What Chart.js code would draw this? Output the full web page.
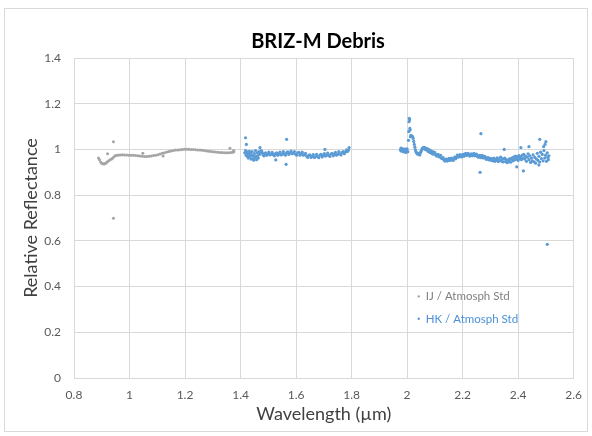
<!DOCTYPE html>
<html>
<head>
<meta charset="utf-8">
<script src="https://cdn.jsdelivr.net/npm/chart.js@4.4.0/dist/chart.umd.min.js"></script>
<style>
  html, body { margin: 0; padding: 0; background: #fff; }
  canvas { display: block; }
</style>
</head>
<body>
<canvas id="chart" width="592" height="436"></canvas>
<script>
// IJ / Atmosph Std (gray)
const ijWave = [
  0.888, 0.892, 0.896, 0.900, 0.904, 0.908, 0.912, 0.916, 0.920, 0.925,
  0.930, 0.935, 0.940, 0.945, 0.950, 0.956, 0.962, 0.968, 0.975, 0.982,
  0.990, 0.998, 1.006, 1.014, 1.022, 1.030, 1.038, 1.046, 1.054, 1.062,
  1.070, 1.078, 1.086, 1.094, 1.102, 1.110, 1.118, 1.126, 1.134, 1.142,
  1.150, 1.158, 1.166, 1.174, 1.182, 1.190, 1.198, 1.206, 1.214, 1.222,
  1.230, 1.238, 1.246, 1.254, 1.262, 1.270, 1.278, 1.286, 1.294, 1.302,
  1.310, 1.318, 1.326, 1.334, 1.342, 1.350, 1.358, 1.366, 1.372,
  0.942, 0.942, 0.921, 1.362, 1.375, 1.376, 1.048, 1.121
]
const ijRefl = [
  0.962, 0.955, 0.945, 0.940, 0.937, 0.936, 0.938, 0.941, 0.946, 0.950,
  0.955, 0.958, 0.963, 0.969, 0.973, 0.975, 0.976, 0.976, 0.977, 0.976,
  0.976, 0.975, 0.975, 0.974, 0.973, 0.972, 0.971, 0.970, 0.969, 0.969,
  0.970, 0.971, 0.973, 0.975, 0.977, 0.980, 0.983, 0.986, 0.989, 0.991,
  0.993, 0.995, 0.997, 0.998, 0.999, 1.000, 1.001, 1.001, 1.001, 1.000,
  1.000, 0.999, 0.998, 0.997, 0.996, 0.995, 0.993, 0.992, 0.991, 0.990,
  0.989, 0.988, 0.987, 0.987, 0.986, 0.986, 0.986, 0.987, 0.988,
  1.034, 0.699, 0.981, 1.005, 0.995, 0.990, 0.983, 0.971
]

// HK / Atmosph Std (blue), first window
const hkWaveA = [
  1.415, 1.418, 1.420, 1.422, 1.424, 1.426, 1.428, 1.430, 1.432, 1.434,
  1.436, 1.438, 1.440, 1.442, 1.444, 1.446, 1.448, 1.450, 1.452, 1.454,
  1.456, 1.458, 1.460, 1.462, 1.464, 1.466, 1.468, 1.470, 1.472, 1.475,
  1.478, 1.481, 1.484, 1.487, 1.490, 1.494, 1.498, 1.502, 1.506, 1.510,
  1.514, 1.518, 1.522, 1.526, 1.530, 1.534, 1.538, 1.542, 1.546, 1.550,
  1.554, 1.558, 1.562, 1.566, 1.570, 1.574, 1.578, 1.582, 1.586, 1.590,
  1.594, 1.598, 1.602, 1.606, 1.610, 1.614, 1.618, 1.622, 1.626, 1.630,
  1.634, 1.638, 1.642, 1.646, 1.650, 1.654, 1.658, 1.662, 1.666, 1.670,
  1.674, 1.678, 1.682, 1.686, 1.690, 1.694, 1.698, 1.702, 1.706, 1.710,
  1.714, 1.718, 1.722, 1.726, 1.730, 1.734, 1.738, 1.742, 1.746, 1.750,
  1.754, 1.758, 1.762, 1.766, 1.770, 1.774, 1.778, 1.782, 1.786, 1.789,
  1.791,
  1.418, 1.421, 1.566, 1.564, 1.527, 1.704
]
const hkReflA = [
  0.985, 0.995, 0.975, 0.990, 0.970, 0.983, 0.962, 0.978, 0.992, 0.968,
  0.985, 0.958, 0.975, 0.990, 0.960, 0.972, 0.953, 0.982, 0.965, 0.995,
  0.970, 0.955, 0.985, 0.972, 0.962, 0.990, 0.978, 1.008, 0.985, 0.995,
  0.987, 0.977, 0.972, 0.982, 0.985, 0.974, 0.980, 0.988, 0.976, 0.979,
  0.987, 0.977, 0.972, 0.982, 0.985, 0.974, 0.980, 0.988, 0.976, 0.979,
  0.990, 0.980, 0.975, 0.986, 0.989, 0.978, 0.985, 0.993, 0.981, 0.984,
  0.991, 0.980, 0.975, 0.985, 0.987, 0.975, 0.981, 0.988, 0.975, 0.977,
  0.983, 0.971, 0.965, 0.974, 0.976, 0.965, 0.970, 0.977, 0.965, 0.968,
  0.978, 0.968, 0.964, 0.975, 0.978, 0.967, 0.974, 0.982, 0.971, 0.974,
  0.984, 0.974, 0.969, 0.980, 0.983, 0.972, 0.979, 0.987, 0.975, 0.979,
  0.990, 0.980, 0.976, 0.987, 0.991, 0.981, 0.989, 0.998, 0.991, 0.997,
  1.008,
  1.051, 1.022, 1.044, 0.935, 0.954, 1.000
]

// HK / Atmosph Std (blue), second window
const hkWaveB = [
  1.976, 1.978, 1.980, 1.982, 1.984, 1.986, 1.988, 1.990, 1.992, 1.994,
  1.996, 1.998, 2.000, 2.003, 2.005, 2.006, 2.007, 2.008, 2.009, 2.010,
  2.011, 2.012, 2.014, 2.016, 2.018, 2.020, 2.022, 2.024, 2.026, 2.028,
  2.030, 2.032, 2.034, 2.036, 2.038, 2.040, 2.042, 2.044, 2.046, 2.048,
  2.050, 2.052, 2.054, 2.056, 2.058, 2.060, 2.062, 2.064, 2.066, 2.068,
  2.070, 2.073, 2.076, 2.079, 2.082, 2.085, 2.088, 2.091, 2.094, 2.097,
  2.100, 2.103, 2.106, 2.109, 2.112, 2.115, 2.118, 2.121, 2.124, 2.127,
  2.130, 2.133, 2.136, 2.139, 2.142, 2.145, 2.148, 2.151, 2.154, 2.157,
  2.160, 2.163, 2.166, 2.169, 2.172, 2.175, 2.178, 2.181, 2.184, 2.187,
  2.190, 2.193, 2.196, 2.199, 2.202, 2.205, 2.208, 2.211, 2.214, 2.217,
  2.220, 2.223, 2.226, 2.229, 2.232, 2.235, 2.238, 2.241, 2.244, 2.247,
  2.250, 2.253, 2.256, 2.259, 2.262, 2.265, 2.268, 2.271, 2.274, 2.277,
  2.280, 2.283, 2.286, 2.289, 2.292, 2.295, 2.298, 2.301, 2.304, 2.307,
  2.310, 2.313, 2.316, 2.319, 2.322, 2.325, 2.328, 2.331, 2.334, 2.337,
  2.340, 2.343, 2.346, 2.349, 2.352, 2.355, 2.358, 2.361, 2.364, 2.367,
  2.370, 2.373, 2.376, 2.379, 2.382, 2.385, 2.388, 2.391, 2.394, 2.397,
  2.400, 2.403, 2.406, 2.409, 2.412, 2.415, 2.418, 2.421, 2.424, 2.427,
  2.430, 2.433, 2.436, 2.439, 2.442, 2.445, 2.448, 2.451, 2.454, 2.457,
  2.460, 2.463, 2.466, 2.469, 2.472, 2.475, 2.478, 2.481, 2.484, 2.487,
  2.490, 2.493, 2.496, 2.499, 2.502, 2.505, 2.507, 2.509, 2.511,
  2.266, 2.263, 2.350, 2.419, 2.395, 2.478, 2.500, 2.492, 2.439, 2.410,
  2.475, 2.505, 2.497
]
const hkReflB = [
  0.998, 1.006, 0.992, 1.001, 0.995, 1.003, 0.989, 0.997, 0.993, 1.001,
  0.987, 0.995, 1.002, 0.990, 1.040, 1.078, 1.121, 1.136, 1.129, 1.092,
  1.085, 1.056, 1.062, 1.059, 1.057, 1.055, 1.048, 1.035, 1.022, 1.010,
  0.998, 0.990, 0.985, 0.982, 0.980, 0.983, 0.978, 0.981, 0.976, 0.985,
  0.990, 0.996, 1.002, 1.006, 1.004, 1.009, 1.003, 1.008, 1.000, 1.004,
  0.998, 1.004, 0.991, 0.999, 0.987, 0.995, 0.983, 0.991, 0.979, 0.988,
  0.986, 0.976, 0.971, 0.977, 0.978, 0.967, 0.970, 0.974, 0.961, 0.960,
  0.964, 0.954, 0.949, 0.957, 0.958, 0.949, 0.954, 0.961, 0.952, 0.954,
  0.962, 0.955, 0.952, 0.962, 0.966, 0.959, 0.966, 0.975, 0.966, 0.969,
  0.977, 0.970, 0.967, 0.976, 0.979, 0.970, 0.976, 0.983, 0.974, 0.976,
  0.983, 0.975, 0.971, 0.979, 0.981, 0.972, 0.976, 0.983, 0.972, 0.974,
  0.980, 0.971, 0.966, 0.973, 0.974, 0.964, 0.968, 0.974, 0.963, 0.964,
  0.970, 0.961, 0.956, 0.963, 0.964, 0.954, 0.958, 0.961, 0.952, 0.959,
  0.950, 0.962, 0.948, 0.957, 0.952, 0.963, 0.947, 0.958, 0.951, 0.966,
  0.949, 0.960, 0.945, 0.957, 0.962, 0.946, 0.955, 0.942, 0.953, 0.948,
  0.960, 0.944, 0.956, 0.963, 0.950, 0.967, 0.955, 0.971, 0.958, 0.966,
  0.952, 0.973, 0.960, 0.968, 0.955, 0.975, 0.962, 0.978, 0.958, 0.970,
  0.948, 0.966, 0.981, 0.955, 0.972, 0.943, 0.962, 0.950, 0.976, 0.946,
  0.965, 0.940, 0.958, 0.983, 0.952, 0.970, 0.945, 0.988, 0.960, 0.978,
  0.950, 0.995, 0.962, 0.975, 0.948, 0.985, 0.965, 0.955, 0.972,
  1.069, 0.900, 1.000, 0.906, 0.924, 1.044, 1.034, 1.012, 1.012, 1.008,
  0.932, 0.585, 1.022
]

const xTickLabels = ['0.8', '1', '1.2', '1.4', '1.6', '1.8', '2', '2.2', '2.4', '2.6']
const yTickLabels = ['0', '0.2', '0.4', '0.6', '0.8', '1', '1.2', '1.4']

const seriesNames = ['IJ / Atmosph Std', 'HK / Atmosph Std']
const seriesColors = ['#a5a5a5', '#5b9bd5']
const legendTextColors = ['#7f7f7f', '#4a90d9']

const FONT = 'Lato, "Open Sans", sans-serif'

function toPoints(xs, ys) {
    return xs.map((x, i) => ({ x: x, y: ys[i] }))
}

// frame round the whole chart, title and the in-plot legend
const decorations = {
    id: 'decorations',
    beforeDraw(chart) {
        const ctx = chart.ctx
        ctx.save()
        ctx.fillStyle = '#ffffff'
        ctx.fillRect(0, 0, chart.width, chart.height)
        ctx.strokeStyle = '#d9d9d9'
        ctx.lineWidth = 1
        ctx.strokeRect(4.5, 8.5, 583, 423)
        ctx.restore()
    },
    afterDraw(chart) {
        const ctx = chart.ctx
        const area = chart.chartArea
        ctx.save()
        ctx.fillStyle = '#000000'
        ctx.font = 'bold 20px ' + FONT
        ctx.textAlign = 'center'
        ctx.textBaseline = 'middle'
        ctx.fillText('BRIZ-M Debris', 318, 42)

        ctx.font = '11.5px ' + FONT
        ctx.textAlign = 'left'
        const lx = area.left + (area.right - area.left) * 0.69
        const ly = [area.top + (area.bottom - area.top) * 0.745, area.top + (area.bottom - area.top) * 0.815]
        seriesNames.forEach((name, i) => {
            ctx.fillStyle = seriesColors[i]
            ctx.beginPath()
            ctx.arc(lx, ly[i], 1.2, 0, Math.PI * 2)
            ctx.fill()
            ctx.fillStyle = legendTextColors[i]
            ctx.fillText(name, lx + 7, ly[i])
        })
        ctx.restore()
    }
}

new Chart(document.getElementById('chart'), {
    type: 'scatter',
    data: {
        datasets: [
            {
                label: seriesNames[0],
                data: toPoints(ijWave, ijRefl),
                backgroundColor: seriesColors[0],
                borderWidth: 0,
                pointRadius: 1.5
            },
            {
                label: seriesNames[1],
                data: toPoints(hkWaveA, hkReflA).concat(toPoints(hkWaveB, hkReflB)),
                backgroundColor: seriesColors[1],
                borderWidth: 0,
                pointRadius: 1.6
            }
        ]
    },
    options: {
        responsive: false,
        animation: false,
        devicePixelRatio: 1,
        layout: {
            padding: { left: 0, right: 9, top: 58, bottom: 0 }
        },
        plugins: {
            legend: { display: false },
            tooltip: { enabled: false },
            title: { display: false }
        },
        scales: {
            x: {
                type: 'linear',
                min: 0.8,
                max: 2.6,
                afterFit: function(scale) { scale.height = 58 },
                ticks: {
                    stepSize: 0.2,
                    autoSkip: false,
                    maxRotation: 0,
                    padding: 10,
                    color: '#595959',
                    font: { family: FONT, size: 12 },
                    callback: function(value, index) { return xTickLabels[index] }
                },
                grid: { color: '#d9d9d9', drawTicks: false },
                border: { color: '#d9d9d9' },
                title: {
                    display: true,
                    text: 'Wavelength (µm)',
                    color: '#404040',
                    font: { family: FONT, size: 18 },
                    padding: { top: 2, bottom: 11 }
                }
            },
            y: {
                min: 0,
                max: 1.4,
                afterFit: function(scale) { scale.width = 74 },
                ticks: {
                    stepSize: 0.2,
                    padding: 13,
                    color: '#595959',
                    font: { family: FONT, size: 12 },
                    callback: function(value, index) { return yTickLabels[index] }
                },
                grid: { color: '#d9d9d9', drawTicks: false },
                border: { color: '#d9d9d9' },
                title: {
                    display: true,
                    text: 'Relative Reflectance',
                    color: '#404040',
                    font: { family: FONT, size: 18 },
                    padding: { top: 20, bottom: 0 }
                }
            }
        }
    },
    plugins: [decorations]
})
</script>
</body>
</html>
